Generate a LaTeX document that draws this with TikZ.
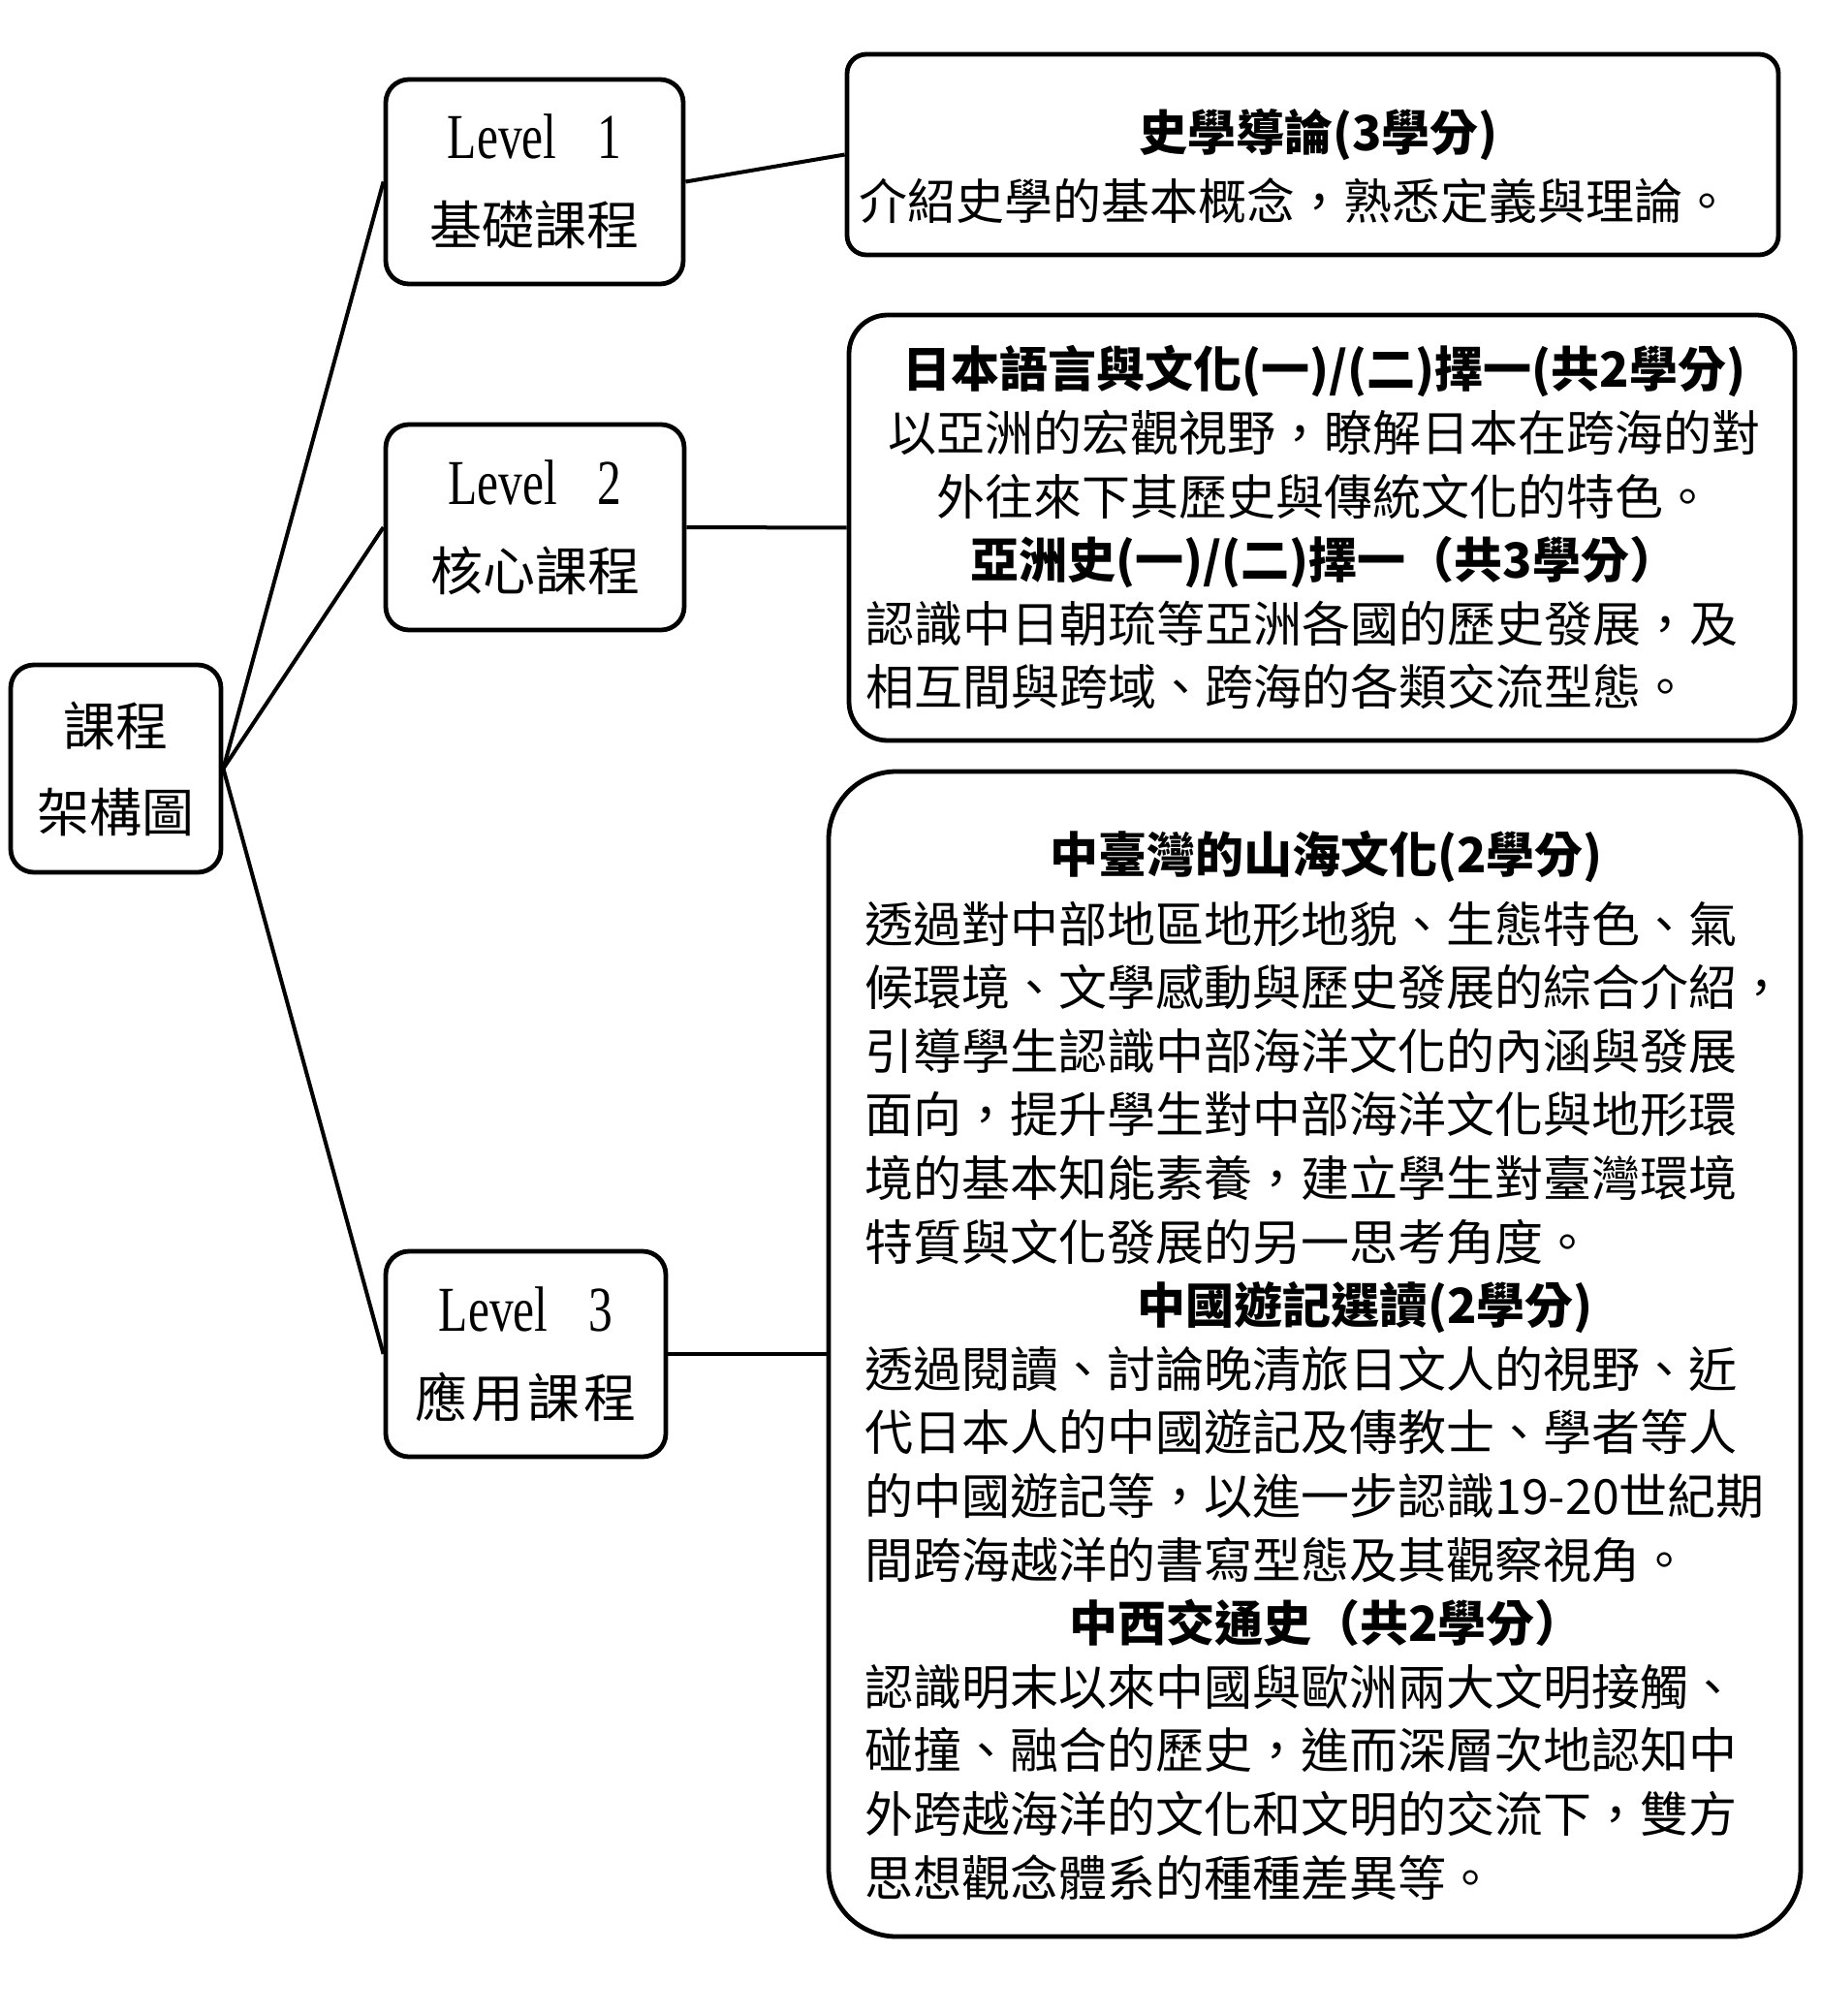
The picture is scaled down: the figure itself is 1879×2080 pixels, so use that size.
\documentclass[tikz,border=0pt]{standalone}
\usepackage{fontspec}
\setmainfont{Noto Sans CJK TC}
\newfontfamily\lvfont[FakeStretch=0.75]{Liberation Serif}
\setlength{\parindent}{0pt}
\begin{document}
\begin{tikzpicture}[x=0.5pt,y=-0.5pt,
  box/.style={draw, line width=2.4pt, rounded corners=#1, inner sep=0pt},
  box/.default=12pt,
  lvtext/.style={align=center, font=\fontsize{27pt}{44.5pt}\selectfont},
  body/.style={inner sep=0pt, anchor=base west, font=\fontsize{25pt}{32.8pt}\selectfont},
  conn/.style={line width=2pt}
]
\fill[white] (0,0) rectangle (1879,2080);
\useasboundingbox (0,0) rectangle (1879,2080);

% root and level boxes
\node[box, lvtext, minimum width=108.5pt, minimum height=107pt] (root) at (119.5,793) {課程\\架構圖};
\node[box, lvtext, minimum width=153.5pt, minimum height=105.5pt] (L1) at (551.5,187.5)
  {{\lvfont\fontsize{33pt}{44.5pt}\selectfont Level\hspace{21pt}1}\\基礎課程};
\node[box, lvtext, minimum width=154pt, minimum height=106pt] (L2) at (552,544)
  {{\lvfont\fontsize{33pt}{44.5pt}\selectfont Level\hspace{21pt}2}\\核心課程};
\node[box, lvtext, minimum width=144.5pt, minimum height=106pt] (L3) at (542.5,1397)
  {{\lvfont\fontsize{33pt}{44.5pt}\selectfont Level\hspace{21pt}3}\\應\hspace{2pt}用\hspace{2pt}課\hspace{2pt}程};

% content boxes
\node[box=10pt, minimum width=480.5pt, minimum height=103.5pt] (B1) at (1354.5,159.5) {};
\node[box=20pt, minimum width=488pt, minimum height=219.5pt] (B2) at (1364,544.5) {};
\node[box=35pt, minimum width=501.5pt, minimum height=601pt] (B3) at (1356.5,1397) {};

% texts of content boxes
\node[body, text width=474pt, font=\fontsize{25pt}{35.5pt}\selectfont] (B1t) at (886,156) {%
{\centering\bfseries 史學導論(3學分)\par}
介紹史學的基本概念，熟悉定義與理論。};

\node[body, text width=473pt] (B2t) at (893,400) {%
{\centering\bfseries 日本語言與文化(一)/(二)擇一(共2學分)\par}
{\centering 以亞洲的宏觀視野，瞭解日本在跨海的對\\外往來下其歷史與傳統文化的特色。\par}
{\centering\bfseries 亞洲史(一)/(二)擇一（共3學分）\par}
{\raggedright 認識中日朝琉等亞洲各國的歷史發展，及\\相互間與跨域、跨海的各類交流型態。\par}};

\node[body, text width=476pt] (B3t) at (892,900) {%
{\centering\bfseries 中臺灣的山海文化(2學分)\par}
\vspace{3.2pt}
{\raggedright 透過對中部地區地形地貌、生態特色、氣\\
候環境、文學感動與歷史發展的綜合介紹，\\
引導學生認識中部海洋文化的內涵與發展\\
面向，提升學生對中部海洋文化與地形環\\
境的基本知能素養，建立學生對臺灣環境\\
特質與文化發展的另一思考角度。\par}
{\centering\bfseries\hspace*{40pt}中國遊記選讀(2學分)\par}
{\raggedright 透過閱讀、討論晚清旅日文人的視野、近\\
代日本人的中國遊記及傳教士、學者等人\\
的中國遊記等，以進一步認識19-20世紀期\\
間跨海越洋的書寫型態及其觀察視角。\par}
{\centering\bfseries 中西交通史（共2學分）\par}
{\raggedright 認識明末以來中國與歐洲兩大文明接觸、\\
碰撞、融合的歷史，進而深層次地認知中\\
外跨越海洋的文化和文明的交流下，雙方\\
思想觀念體系的種種差異等。\par}};

% connectors
\draw[conn] (root.east) -- (L1.west);
\draw[conn] (root.east) -- (L2.west);
\draw[conn] (root.east) -- (L3.west);
\draw[conn] (L1.east) -- (B1.west);
\draw[conn] (L2.east) -- (B2.west);
\draw[conn] (L3.east) -- (B3.west);
\end{tikzpicture}
\end{document}
